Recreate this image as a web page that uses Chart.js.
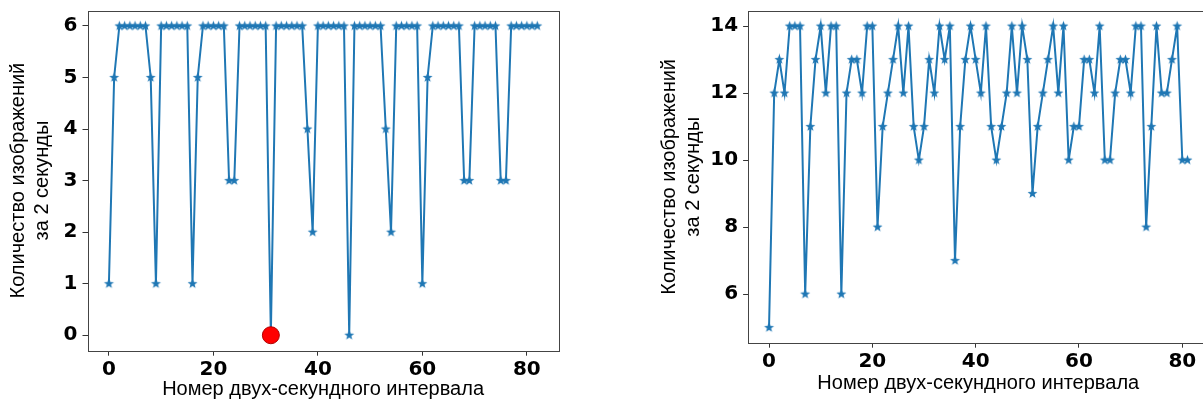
<!DOCTYPE html>
<html>
<head>
<meta charset="utf-8">
<script src="https://cdn.jsdelivr.net/npm/chart.js@4.4.0/dist/chart.umd.min.js"></script>
<style>
html, body { margin: 0; padding: 0; background: #fff; overflow: hidden; width: 1203px; height: 403px; }
.box { position: absolute; top: 0; }
</style>
</head>
<body>
<div class="box" style="left:0px"><canvas id="leftChart" width="600" height="403"></canvas></div>
<div class="box" style="left:651px"><canvas id="rightChart" width="600" height="403"></canvas></div>
<script>
// IMAGES PER 2 SECONDS - two line charts

const leftValues = [1, 5, 6, 6, 6, 6, 6, 6, 5, 1,
    6, 6, 6, 6, 6, 6, 1, 5, 6, 6,
    6, 6, 6, 3, 3, 6, 6, 6, 6, 6,
    6, 0, 6, 6, 6, 6, 6, 6, 4, 2,
    6, 6, 6, 6, 6, 6, 0, 6, 6, 6,
    6, 6, 6, 4, 2, 6, 6, 6, 6, 6,
    1, 5, 6, 6, 6, 6, 6, 6, 3, 3,
    6, 6, 6, 6, 6, 3, 3, 6, 6, 6,
    6, 6, 6];

// red marker on the left chart
const markX = [31];
const markY = [0];

const rightValues = [5, 12, 13, 12, 14, 14, 14, 6, 11, 13,
    14, 12, 14, 14, 6, 12, 13, 13, 12, 14,
    14, 8, 11, 12, 13, 14, 12, 14, 11, 10,
    11, 13, 12, 14, 13, 14, 7, 11, 13, 14,
    13, 12, 14, 11, 10, 11, 12, 14, 12, 14,
    13, 9, 11, 12, 13, 14, 12, 14, 10, 11,
    11, 13, 13, 12, 14, 10, 10, 12, 13, 13,
    12, 14, 14, 8, 11, 14, 12, 12, 13, 14,
    10, 10];

const xTicks = [0, 20, 40, 60, 80];
const leftYTicks = [0, 1, 2, 3, 4, 5, 6];
const rightYTicks = [6, 8, 10, 12, 14];

const xTitle = "Номер двух-секундного интервала";
const yTitle = ["Количество изображений", "за 2 секунды"];

const blue = "#1f77b4";

// filled 5-point star like matplotlib's '*'
function starImage(r) {
    const c = document.createElement("canvas");
    const s = Math.ceil(r * 2 + 2);
    c.width = s;
    c.height = s;
    const g = c.getContext("2d");
    g.fillStyle = blue;
    g.beginPath();
    for (let k = 0; k < 10; k++) {
        const rad = k % 2 === 0 ? r : r * 0.42;
        const a = -Math.PI / 2 + k * Math.PI / 5;
        const px = s / 2 + rad * Math.cos(a);
        const py = s / 2 + rad * Math.sin(a);
        if (k === 0) g.moveTo(px, py); else g.lineTo(px, py);
    }
    g.closePath();
    g.fill();
    return c;
}
const star = starImage(5.2);

const frame = {
    id: "frame",
    afterDatasetsDraw(chart) {
        const a = chart.chartArea;
        const ctx = chart.ctx;
        ctx.save();
        ctx.strokeStyle = "#444";
        ctx.lineWidth = 1;
        ctx.strokeRect(Math.round(a.left) + 0.5, Math.round(a.top) + 0.5,
            Math.round(a.right - a.left), Math.round(a.bottom - a.top));
        ctx.restore();
    }
};

const tickFont = { family: "DejaVu Sans", weight: "bold", size: 20 };
const titleFont = { family: "Liberation Sans", size: 20 };
const gridOpts = { display: true, drawOnChartArea: false, drawTicks: true, tickLength: 5, color: "#333" };

function makeChart(id, points, yTicks, lim, box, extra) {
    const datasets = [{
        data: points,
        borderColor: blue,
        borderWidth: 2,
        pointStyle: star,
        pointRadius: 5,
        order: 1
    }].concat(extra);

    return new Chart(document.getElementById(id), {
        type: "line",
        data: { datasets: datasets },
        options: {
            responsive: false,
            animation: false,
            devicePixelRatio: 1,
            layout: { padding: { left: 0, right: box.right, top: box.top, bottom: 0 } },
            plugins: { legend: { display: false }, tooltip: { enabled: false } },
            scales: {
                x: {
                    type: "linear",
                    min: lim.xmin,
                    max: lim.xmax,
                    afterBuildTicks: ax => { ax.ticks = xTicks.map(v => ({ value: v })); },
                    afterFit: ax => { ax.height = box.xh; ax.paddingLeft = 0; ax.paddingRight = 0; },
                    grid: gridOpts,
                    border: { display: false },
                    ticks: { color: "#000", font: tickFont, padding: 2, maxRotation: 0, autoSkip: false },
                    title: { display: true, text: xTitle, color: "#000", font: titleFont, padding: { top: 0, bottom: box.xtPad } }
                },
                y: {
                    type: "linear",
                    min: lim.ymin,
                    max: lim.ymax,
                    afterBuildTicks: ax => { ax.ticks = yTicks.map(v => ({ value: v })); },
                    afterFit: ax => { ax.width = box.yw; ax.paddingTop = 0; ax.paddingBottom = 0; },
                    grid: gridOpts,
                    border: { display: false },
                    ticks: { color: "#000", font: tickFont, padding: 5, autoSkip: false },
                    title: { display: true, text: yTitle, color: "#000", font: titleFont, padding: { top: 6, bottom: 0 } }
                }
            }
        },
        plugins: [frame]
    });
}

const leftPoints = leftValues.map((v, i) => ({ x: i, y: v }));
const rightPoints = rightValues.map((v, i) => ({ x: i, y: v }));
const markPoints = markX.map((x, i) => ({ x: x, y: markY[i] }));

makeChart("leftChart", leftPoints, leftYTicks,
    { xmin: -4.1, xmax: 86.1, ymin: -0.3, ymax: 6.3 },
    { right: 41.3, top: 10.5, xh: 52.3, yw: 87.5, xtPad: 2 },
    [{
        data: markPoints,
        showLine: false,
        pointStyle: "circle",
        pointRadius: 8.5,
        backgroundColor: "#ff0000",
        borderColor: "#b00000",
        borderWidth: 1,
        order: 0
    }]);

makeChart("rightChart", rightPoints, rightYTicks,
    { xmin: -4.05, xmax: 85.05, ymin: 4.55, ymax: 14.45 },
    { right: 42.6, top: 11, xh: 60.3, yw: 97.1, xtPad: 8 },
    []);
</script>
</body>
</html>
